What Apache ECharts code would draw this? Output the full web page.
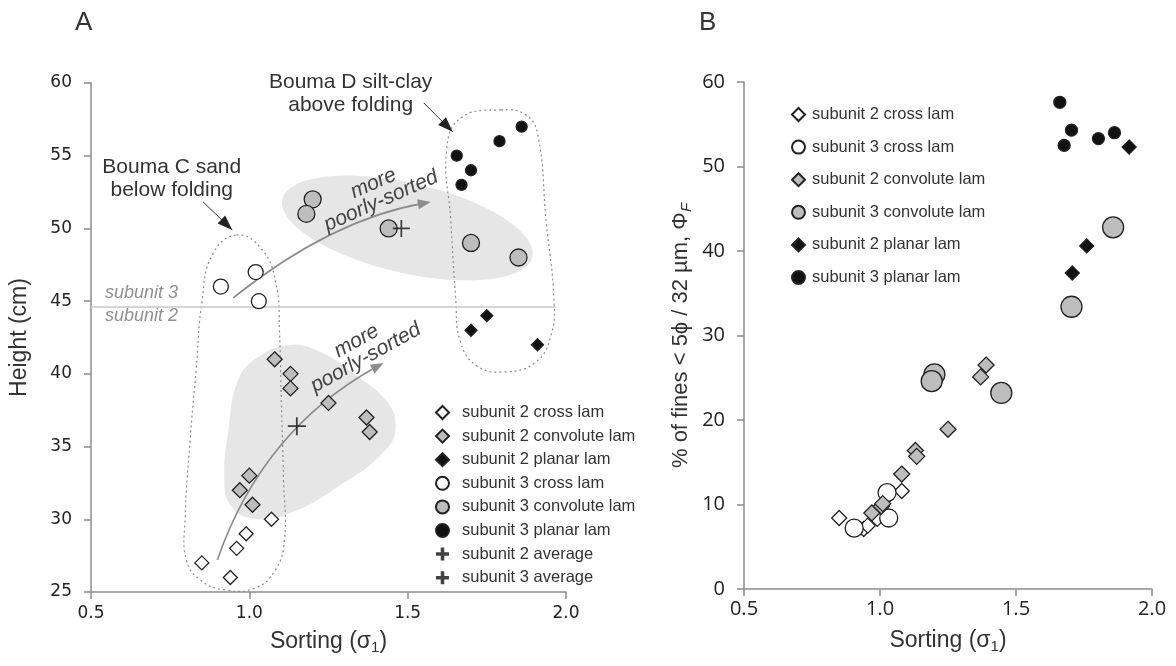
<!DOCTYPE html>
<html><head><meta charset="utf-8">
<script src="https://cdn.jsdelivr.net/npm/echarts@6/dist/echarts.min.js"></script>
<style>html,body{margin:0;padding:0;background:#fff}#c{width:1176px;height:666px}</style>
</head><body><div id="c"></div>
<script>
// ---------- DATA ----------
// Panel A: [sorting, height cm]
const aSub2Cross    = [[0.85,27],[0.94,26],[0.96,28],[0.99,29],[1.07,30]];
const aSub2Conv     = [[1.08,41],[1.13,40],[1.13,39],[1.25,38],[1.37,37],[1.38,36],[1.00,33],[0.97,32],[1.01,31]];
const aSub2Planar   = [[1.70,43],[1.75,44],[1.91,42]];
const aSub3Cross    = [[0.91,46],[1.02,47],[1.03,45]];
const aSub3Conv     = [[1.20,52],[1.18,51],[1.44,50],[1.70,49],[1.85,48]];
const aSub3Planar   = [[1.655,55],[1.70,54],[1.67,53],[1.79,56],[1.86,57]];
const aSub2Avg      = [[1.15,36.4]];
const aSub3Avg      = [[1.48,50]];
const subunitBoundary = 44.6;

// Panel B: [sorting, % fines]
const bSub2Cross    = [[0.85,8.4],[0.94,7.1],[0.955,7.5],[0.99,8.3],[1.08,11.6]];
const bSub3Cross    = [[0.905,7.2],[1.026,11.4],[1.032,8.4]];
const bSub2Conv     = [[0.97,9.0],[1.005,9.8],[1.01,10.1],[1.08,13.6],[1.13,16.4],[1.135,15.7],[1.25,18.9],[1.37,25.1],[1.39,26.5]];
const bSub3Conv     = [[1.20,25.4],[1.19,24.6],[1.446,23.2],[1.704,33.4],[1.857,42.8]];
const bSub2Planar   = [[1.707,37.4],[1.76,40.6],[1.916,52.3]];
const bSub3Planar   = [[1.661,57.6],[1.704,54.3],[1.677,52.5],[1.803,53.3],[1.862,54.0]];

const legendA = ['subunit 2 cross lam','subunit 2 convolute lam','subunit 2 planar lam','subunit 3 cross lam','subunit 3 convolute lam','subunit 3 planar lam','subunit 2 average','subunit 3 average'];
const legendB = ['subunit 2 cross lam','subunit 3 cross lam','subunit 2 convolute lam','subunit 3 convolute lam','subunit 2 planar lam','subunit 3 planar lam'];

// ---------- ANNOTATIONS in panel A data space ----------
const shadeUpper = {center:[1.499,50.03], rx:0.405, ry:0.142, angle:13};
const shadeLower = [[1.130,41.99],[1.028,41.16],[0.965,39.58],[0.934,36.14],[0.921,32.70],[0.940,30.98],[1.003,30.09],[1.114,30.30],[1.288,32.36],[1.430,34.77],[1.462,36.49],[1.430,38.2],[1.335,39.92],[1.225,41.5]];
const outlineC = [[0.959,49.55],[1.041,48.52],[1.085,46.11],[1.095,43.02],[1.101,38.20],[1.108,32.70],[1.111,28.58],[1.082,26.51],[1.019,25.28],[0.924,25.14],[0.845,25.83],[0.801,27.20],[0.797,29.95],[0.813,35.45],[0.832,40.27],[0.851,45.08],[0.883,48.18]];
const outlineD = [[1.794,58.15],[1.873,57.81],[1.911,56.43],[1.937,50.58],[1.962,45.08],[1.953,42.68],[1.905,40.82],[1.804,40.13],[1.715,40.61],[1.665,42.33],[1.652,45.08],[1.636,50.58],[1.623,55.40],[1.668,57.60]];
const arrowUpper = [[0.949,45.22],[1.256,50.58],[1.573,51.82]];
const arrowLower = [[0.899,27.20],[1.041,36.14],[1.424,40.75]];
const calloutC = [[0.854,51.82],[0.946,49.90]];
const calloutD = [[1.551,58.63],[1.642,56.64]];
const textC = {pos:[0.755,53.44], text:'Bouma C sand\nbelow folding'};
const textD = {pos:[1.32,59.28], text:'Bouma D silt-clay\nabove folding'};
const textUpper = {pos:[1.404,52.49], angle:24, text:'more\npoorly-sorted'};
const textLower = {pos:[1.353,41.68], angle:29, text:'more\npoorly-sorted'};
const labelSub3 = {pos:[0.544,45.55], text:'subunit 3'};
const labelSub2 = {pos:[0.544,44.0], text:'subunit 2'};

const SANS = '"Liberation Sans", Arial, sans-serif';
const STROKE = '#222';
const GRAY = '#bdbdbd';
const PLUS = 'path://M9,0H11V9H20V11H11V20H9V11H0V9H9Z';
const PLUS_BOLD = 'path://M7.3,0H12.7V7.3H20V12.7H12.7V20H7.3V12.7H0V7.3H7.3Z';

function head(tip, from, len, wid, color) {
  const dx = tip[0]-from[0], dy = tip[1]-from[1], L = Math.hypot(dx,dy);
  const ux = dx/L, uy = dy/L, bx = tip[0]-ux*len, by = tip[1]-uy*len;
  return {type:'polygon', silent:true, shape:{points:[tip,[bx-uy*wid/2,by+ux*wid/2],[bx+uy*wid/2,by-ux*wid/2]]}, style:{fill:color}};
}

function renderAnnot(params, api) {
  const P = p => api.coord(p);
  const sx = api.size([1,0])[0];
  const ch = [];
  const c = P(shadeUpper.center), a = shadeUpper.rx*sx, b = shadeUpper.ry*sx, th = shadeUpper.angle*Math.PI/180;
  const pts = [];
  for (let i=0;i<90;i++){const t=i/90*2*Math.PI,u=a*Math.cos(t),v=b*Math.sin(t);pts.push([c[0]+u*Math.cos(th)-v*Math.sin(th),c[1]+u*Math.sin(th)+v*Math.cos(th)]);}
  ch.push({type:'polygon', silent:true, shape:{points:pts}, style:{fill:'#e6e6e6'}});
  ch.push({type:'polygon', silent:true, shape:{points:shadeLower.map(P), smooth:0.45}, style:{fill:'#e6e6e6'}});
  [outlineC, outlineD].forEach(o => ch.push({type:'polygon', silent:true, shape:{points:o.map(P), smooth:0.45}, style:{fill:'none', stroke:'#8a8a8a', lineWidth:1.2, lineDash:[2,3]}}));
  const l0 = P([0.5, subunitBoundary]), l1 = P([1.97, subunitBoundary]);
  ch.push({type:'line', silent:true, shape:{x1:l0[0],y1:l0[1],x2:l1[0],y2:l1[1]}, style:{stroke:'#c8c8c8', lineWidth:1.5}});
  [arrowUpper, arrowLower].forEach(ar => {
    const s = P(ar[0]), cp = P(ar[1]), e = P(ar[2]);
    const dx=e[0]-cp[0], dy=e[1]-cp[1], L=Math.hypot(dx,dy);
    const e2 = [e[0]-dx/L*8, e[1]-dy/L*8];
    ch.push({type:'bezierCurve', silent:true, shape:{x1:s[0],y1:s[1],cpx1:cp[0],cpy1:cp[1],x2:e2[0],y2:e2[1]}, style:{fill:'none', stroke:'#8c8c8c', lineWidth:1.6}});
    ch.push(head(e, cp, 13, 10, '#8c8c8c'));
  });
  [calloutC, calloutD].forEach(ar => {
    const s = P(ar[0]), e = P(ar[1]);
    ch.push({type:'line', silent:true, shape:{x1:s[0],y1:s[1],x2:e[0],y2:e[1]}, style:{stroke:'#333', lineWidth:1}});
    ch.push(head(e, s, 15, 11, '#222'));
  });
  [textC, textD].forEach(t => { const p = P(t.pos); ch.push({type:'text', silent:true, x:p[0], y:p[1], style:{text:t.text, fill:'#333', font:'21px '+SANS, align:'center', verticalAlign:'middle', lineHeight:23}}); });
  [textUpper, textLower].forEach(t => { const p = P(t.pos); ch.push({type:'text', silent:true, x:p[0], y:p[1], rotation:t.angle*Math.PI/180, style:{text:t.text, fill:'#444', font:'italic 21px '+SANS, align:'center', verticalAlign:'middle', lineHeight:19}}); });
  [labelSub3, labelSub2].forEach(t => { const p = P(t.pos); ch.push({type:'text', silent:true, x:p[0], y:p[1], style:{text:t.text, fill:'#8f8f8f', font:'italic 18px '+SANS, align:'left', verticalAlign:'middle'}}); });
  return {type:'group', children:ch};
}

function scatter(name, data, symbol, size, fill, axis) {
  return {type:'scatter', name, data, symbol, symbolSize:size, xAxisIndex:axis, yAxisIndex:axis, z:3,
    itemStyle:{color:fill, borderColor:STROKE, borderWidth:1.3, opacity:1}, emphasis:{disabled:true}};
}
function plus(name, data, size) {
  return {type:'scatter', name, data, symbol:PLUS, symbolSize:size, xAxisIndex:0, yAxisIndex:0, z:4,
    itemStyle:{color:'#111', borderWidth:0}, emphasis:{disabled:true}};
}

const axisLine = {lineStyle:{color:'#8c8c8c', width:1.5}};
const axisTick = {show:true, length:7, lineStyle:{color:'#8c8c8c', width:1.5}};

const chart = echarts.init(document.getElementById('c'), null, {renderer:'canvas'});
chart.setOption({
  animation:false,
  backgroundColor:'#fff',
  title:[
    {text:'A', left:70, top:5, textStyle:{fontSize:26, fontWeight:'normal', color:'#333', fontFamily:SANS}},
    {text:'B', left:694, top:5, textStyle:{fontSize:26, fontWeight:'normal', color:'#333', fontFamily:SANS}}
  ],
  grid:[
    {left:91, top:83, width:475, height:509},
    {left:744, top:82, width:408, height:507}
  ],
  xAxis:[
    {type:'value', gridIndex:0, min:0.5, max:2.0, interval:0.5, axisLine, axisTick, splitLine:{show:false},
     axisLabel:{formatter:v=>v.toFixed(1), fontSize:17, color:'#222', fontFamily:'"DejaVu Sans"', margin:13},
     name:'{a|Sorting (σ}{s|1}{a|)}', nameLocation:'middle', nameGap:36,
     nameTextStyle:{rich:{a:{fontSize:23, color:'#333', fontFamily:SANS}, s:{fontSize:15, color:'#333', fontFamily:SANS, padding:[12,0,0,0]}}}},
    {type:'value', gridIndex:1, min:0.5, max:2.0, interval:0.5, axisLine, axisTick, splitLine:{show:false},
     axisLabel:{formatter:v=>v.toFixed(1), fontSize:20, color:'#222', fontFamily:'"Open Sans"', margin:10},
     name:'{a|Sorting (σ}{s|1}{a|)}', nameLocation:'middle', nameGap:38,
     nameTextStyle:{rich:{a:{fontSize:23, color:'#333', fontFamily:SANS}, s:{fontSize:15, color:'#333', fontFamily:SANS, padding:[12,0,0,0]}}}}
  ],
  yAxis:[
    {type:'value', gridIndex:0, min:25, max:60, interval:5, axisLine:{show:true, ...axisLine}, axisTick, splitLine:{show:false},
     axisLabel:{fontSize:17, color:'#222', fontFamily:'"DejaVu Sans"', margin:19},
     name:'Height (cm)', nameLocation:'middle', nameGap:60, nameTextStyle:{fontSize:23, color:'#333', fontFamily:SANS}},
    {type:'value', gridIndex:1, min:0, max:60, interval:10, axisLine:{show:true, ...axisLine}, axisTick, splitLine:{show:false},
     axisLabel:{fontSize:20, color:'#222', fontFamily:'"Open Sans"', margin:19},
     name:'{a|% of fines < 5ϕ / 32 µm, Φ}{s|F}', nameLocation:'middle', nameGap:50,
     nameTextStyle:{rich:{a:{fontSize:22, color:'#333', fontFamily:SANS}, s:{fontSize:15, color:'#333', fontFamily:SANS, fontStyle:'italic', padding:[11,0,0,0]}}}}
  ],
  legend:[
    {orient:'vertical', left:435, top:404, padding:0, itemWidth:13, itemHeight:13, itemGap:6.6,
     textStyle:{fontSize:16.5, color:'#333', fontFamily:SANS, padding:[0,0,0,8]},
     data:legendA.map(n => n.indexOf('average')>=0 ? {name:n, icon:PLUS_BOLD} : {name:n}), selectedMode:false},
    {orient:'vertical', left:791, top:106, padding:0, itemWidth:13, itemHeight:13, itemGap:15.6,
     textStyle:{fontSize:16.5, color:'#333', fontFamily:SANS, padding:[0,0,0,2]},
     data:legendB, selectedMode:false}
  ],
  series:[
    {type:'custom', name:'annotations', xAxisIndex:0, yAxisIndex:0, z:1, silent:true, clip:false, data:[0], renderItem:renderAnnot},
    scatter('subunit 2 cross lam', aSub2Cross, 'diamond', 14, '#fff', 0),
    scatter('subunit 2 convolute lam', aSub2Conv, 'diamond', 15, GRAY, 0),
    scatter('subunit 2 planar lam', aSub2Planar, 'diamond', 12, '#111', 0),
    scatter('subunit 3 cross lam', aSub3Cross, 'circle', 15, '#fff', 0),
    scatter('subunit 3 convolute lam', aSub3Conv, 'circle', 17, GRAY, 0),
    scatter('subunit 3 planar lam', aSub3Planar, 'circle', 11, '#111', 0),
    plus('subunit 2 average', aSub2Avg, 18),
    plus('subunit 3 average', aSub3Avg, 17),
    scatter('subunit 2 cross lam', bSub2Cross, 'diamond', 15, '#fff', 1),
    scatter('subunit 3 cross lam', bSub3Cross, 'circle', 18, '#fff', 1),
    scatter('subunit 2 convolute lam', bSub2Conv, 'diamond', 16, GRAY, 1),
    scatter('subunit 3 convolute lam', bSub3Conv, 'circle', 21, GRAY, 1),
    scatter('subunit 2 planar lam', bSub2Planar, 'diamond', 14, '#111', 1),
    scatter('subunit 3 planar lam', bSub3Planar, 'circle', 12, '#111', 1)
  ]
});
</script></body></html>
